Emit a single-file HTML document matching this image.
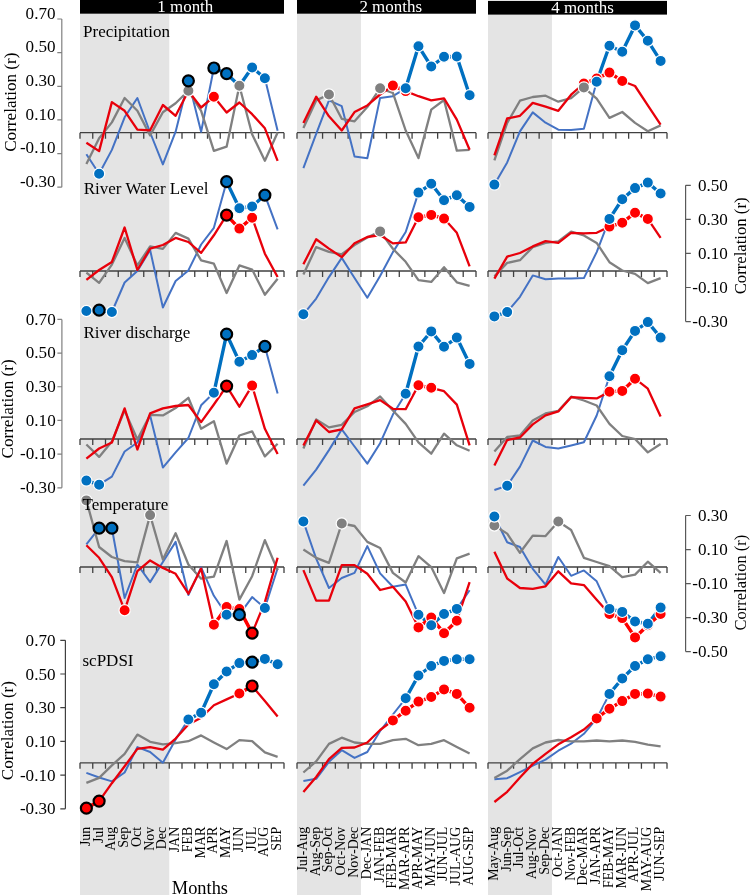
<!DOCTYPE html>
<html><head><meta charset="utf-8"><style>
html,body{margin:0;padding:0;background:#fff;}
svg{display:block;font-family:"Liberation Serif",serif;will-change:transform;}
</style></head><body>
<svg width="750" height="896" viewBox="0 0 750 896">
<rect width="750" height="896" fill="#fff"/>
<rect x="80" y="14" width="89.25" height="881" fill="#e4e4e4"/>
<rect x="297" y="14" width="63.93" height="881" fill="#e4e4e4"/>
<rect x="488" y="14" width="63.93" height="881" fill="#e4e4e4"/>
<rect x="80" y="0" width="204" height="13.7" fill="#000"/>
<text x="185.3" y="11.6" font-size="16.95" fill="#fff" text-anchor="middle">1 month</text>
<rect x="297" y="0" width="179" height="13.7" fill="#000"/>
<text x="390.7" y="11.6" font-size="16.95" fill="#fff" text-anchor="middle">2 months</text>
<rect x="488" y="0.9" width="179" height="13.7" fill="#000"/>
<text x="582.5" y="12.8" font-size="16.95" fill="#fff" text-anchor="middle">4 months</text>
<path d="M80 132.7H284M80 132.7V138.7M92.75 132.7V138.7M105.5 132.7V138.7M118.25 132.7V138.7M131 132.7V138.7M143.75 132.7V138.7M156.5 132.7V138.7M169.25 132.7V138.7M182 132.7V138.7M194.75 132.7V138.7M207.5 132.7V138.7M220.25 132.7V138.7M233 132.7V138.7M245.75 132.7V138.7M258.5 132.7V138.7M271.25 132.7V138.7M284 132.7V138.7" stroke="#404040" stroke-width="1.3" fill="none"/>
<path d="M297 132.7H476M297 132.7V138.7M309.79 132.7V138.7M322.57 132.7V138.7M335.36 132.7V138.7M348.14 132.7V138.7M360.93 132.7V138.7M373.71 132.7V138.7M386.5 132.7V138.7M399.29 132.7V138.7M412.07 132.7V138.7M424.86 132.7V138.7M437.64 132.7V138.7M450.43 132.7V138.7M463.21 132.7V138.7M476 132.7V138.7" stroke="#404040" stroke-width="1.3" fill="none"/>
<path d="M488 132.7H667M488 132.7V138.7M500.79 132.7V138.7M513.57 132.7V138.7M526.36 132.7V138.7M539.14 132.7V138.7M551.93 132.7V138.7M564.71 132.7V138.7M577.5 132.7V138.7M590.29 132.7V138.7M603.07 132.7V138.7M615.86 132.7V138.7M628.64 132.7V138.7M641.43 132.7V138.7M654.21 132.7V138.7M667 132.7V138.7" stroke="#404040" stroke-width="1.3" fill="none"/>
<path d="M80 271H284M80 271V277M92.75 271V277M105.5 271V277M118.25 271V277M131 271V277M143.75 271V277M156.5 271V277M169.25 271V277M182 271V277M194.75 271V277M207.5 271V277M220.25 271V277M233 271V277M245.75 271V277M258.5 271V277M271.25 271V277M284 271V277" stroke="#404040" stroke-width="1.3" fill="none"/>
<path d="M297 271H476M297 271V277M309.79 271V277M322.57 271V277M335.36 271V277M348.14 271V277M360.93 271V277M373.71 271V277M386.5 271V277M399.29 271V277M412.07 271V277M424.86 271V277M437.64 271V277M450.43 271V277M463.21 271V277M476 271V277" stroke="#404040" stroke-width="1.3" fill="none"/>
<path d="M488 271H667M488 271V277M500.79 271V277M513.57 271V277M526.36 271V277M539.14 271V277M551.93 271V277M564.71 271V277M577.5 271V277M590.29 271V277M603.07 271V277M615.86 271V277M628.64 271V277M641.43 271V277M654.21 271V277M667 271V277" stroke="#404040" stroke-width="1.3" fill="none"/>
<path d="M80 439H284M80 439V445M92.75 439V445M105.5 439V445M118.25 439V445M131 439V445M143.75 439V445M156.5 439V445M169.25 439V445M182 439V445M194.75 439V445M207.5 439V445M220.25 439V445M233 439V445M245.75 439V445M258.5 439V445M271.25 439V445M284 439V445" stroke="#404040" stroke-width="1.3" fill="none"/>
<path d="M297 439H476M297 439V445M309.79 439V445M322.57 439V445M335.36 439V445M348.14 439V445M360.93 439V445M373.71 439V445M386.5 439V445M399.29 439V445M412.07 439V445M424.86 439V445M437.64 439V445M450.43 439V445M463.21 439V445M476 439V445" stroke="#404040" stroke-width="1.3" fill="none"/>
<path d="M488 439H667M488 439V445M500.79 439V445M513.57 439V445M526.36 439V445M539.14 439V445M551.93 439V445M564.71 439V445M577.5 439V445M590.29 439V445M603.07 439V445M615.86 439V445M628.64 439V445M641.43 439V445M654.21 439V445M667 439V445" stroke="#404040" stroke-width="1.3" fill="none"/>
<path d="M80 567H284M80 567V573M92.75 567V573M105.5 567V573M118.25 567V573M131 567V573M143.75 567V573M156.5 567V573M169.25 567V573M182 567V573M194.75 567V573M207.5 567V573M220.25 567V573M233 567V573M245.75 567V573M258.5 567V573M271.25 567V573M284 567V573" stroke="#404040" stroke-width="1.3" fill="none"/>
<path d="M297 567H476M297 567V573M309.79 567V573M322.57 567V573M335.36 567V573M348.14 567V573M360.93 567V573M373.71 567V573M386.5 567V573M399.29 567V573M412.07 567V573M424.86 567V573M437.64 567V573M450.43 567V573M463.21 567V573M476 567V573" stroke="#404040" stroke-width="1.3" fill="none"/>
<path d="M488 567H667M488 567V573M500.79 567V573M513.57 567V573M526.36 567V573M539.14 567V573M551.93 567V573M564.71 567V573M577.5 567V573M590.29 567V573M603.07 567V573M615.86 567V573M628.64 567V573M641.43 567V573M654.21 567V573M667 567V573" stroke="#404040" stroke-width="1.3" fill="none"/>
<path d="M80 762.8H284M80 762.8V768.8M92.75 762.8V768.8M105.5 762.8V768.8M118.25 762.8V768.8M131 762.8V768.8M143.75 762.8V768.8M156.5 762.8V768.8M169.25 762.8V768.8M182 762.8V768.8M194.75 762.8V768.8M207.5 762.8V768.8M220.25 762.8V768.8M233 762.8V768.8M245.75 762.8V768.8M258.5 762.8V768.8M271.25 762.8V768.8M284 762.8V768.8" stroke="#404040" stroke-width="1.3" fill="none"/>
<path d="M297 762.8H476M297 762.8V768.8M309.79 762.8V768.8M322.57 762.8V768.8M335.36 762.8V768.8M348.14 762.8V768.8M360.93 762.8V768.8M373.71 762.8V768.8M386.5 762.8V768.8M399.29 762.8V768.8M412.07 762.8V768.8M424.86 762.8V768.8M437.64 762.8V768.8M450.43 762.8V768.8M463.21 762.8V768.8M476 762.8V768.8" stroke="#404040" stroke-width="1.3" fill="none"/>
<path d="M488 762.8H667M488 762.8V768.8M500.79 762.8V768.8M513.57 762.8V768.8M526.36 762.8V768.8M539.14 762.8V768.8M551.93 762.8V768.8M564.71 762.8V768.8M577.5 762.8V768.8M590.29 762.8V768.8M603.07 762.8V768.8M615.86 762.8V768.8M628.64 762.8V768.8M641.43 762.8V768.8M654.21 762.8V768.8M667 762.8V768.8" stroke="#404040" stroke-width="1.3" fill="none"/>
<path d="M61.8 19V187.2M57.3 19H61.8M57.3 52.64H61.8M57.3 86.28H61.8M57.3 119.92H61.8M57.3 153.56H61.8M57.3 187.2H61.8" stroke="#808080" stroke-width="1.2" fill="none"/>
<text x="55.5" y="18.6" font-size="17.1" text-anchor="end">0.70</text>
<text x="55.5" y="52.24" font-size="17.1" text-anchor="end">0.50</text>
<text x="55.5" y="85.88" font-size="17.1" text-anchor="end">0.30</text>
<text x="55.5" y="119.52" font-size="17.1" text-anchor="end">0.10</text>
<text x="55.5" y="153.16" font-size="17.1" text-anchor="end">-0.10</text>
<text x="55.5" y="186.8" font-size="17.1" text-anchor="end">-0.30</text>
<path d="M61.9 319.4V487.8M57.4 319.4H61.9M57.4 353.08H61.9M57.4 386.76H61.9M57.4 420.44H61.9M57.4 454.12H61.9M57.4 487.8H61.9" stroke="#808080" stroke-width="1.2" fill="none"/>
<text x="55.7" y="324.7" font-size="17.1" text-anchor="end">0.70</text>
<text x="55.7" y="358.38" font-size="17.1" text-anchor="end">0.50</text>
<text x="55.7" y="392.06" font-size="17.1" text-anchor="end">0.30</text>
<text x="55.7" y="425.74" font-size="17.1" text-anchor="end">0.10</text>
<text x="55.7" y="459.42" font-size="17.1" text-anchor="end">-0.10</text>
<text x="55.7" y="493.1" font-size="17.1" text-anchor="end">-0.30</text>
<path d="M65.4 640.3V808.8M60.3 640.3H65.4M60.3 674H65.4M60.3 707.7H65.4M60.3 741.4H65.4M60.3 775.1H65.4M60.3 808.8H65.4" stroke="#404040" stroke-width="1.2" fill="none"/>
<text x="55.5" y="645.8" font-size="17.1" text-anchor="end">0.70</text>
<text x="55.5" y="679.5" font-size="17.1" text-anchor="end">0.50</text>
<text x="55.5" y="713.2" font-size="17.1" text-anchor="end">0.30</text>
<text x="55.5" y="746.9" font-size="17.1" text-anchor="end">0.10</text>
<text x="55.5" y="780.6" font-size="17.1" text-anchor="end">-0.10</text>
<text x="55.5" y="814.3" font-size="17.1" text-anchor="end">-0.30</text>
<path d="M685.6 185.3V321.58M685.6 185.3H690.8M685.6 219.37H690.8M685.6 253.44H690.8M685.6 287.51H690.8M685.6 321.58H690.8" stroke="#595959" stroke-width="1.2" fill="none"/>
<text x="727.9" y="190.8" font-size="17.1" text-anchor="end">0.50</text>
<text x="727.9" y="224.87" font-size="17.1" text-anchor="end">0.30</text>
<text x="727.9" y="258.94" font-size="17.1" text-anchor="end">0.10</text>
<text x="727.9" y="293.01" font-size="17.1" text-anchor="end">-0.10</text>
<text x="727.9" y="327.08" font-size="17.1" text-anchor="end">-0.30</text>
<path d="M685.6 515.5V651.62M685.6 515.5H690.8M685.6 549.53H690.8M685.6 583.56H690.8M685.6 617.59H690.8M685.6 651.62H690.8" stroke="#595959" stroke-width="1.2" fill="none"/>
<text x="727.9" y="521" font-size="17.1" text-anchor="end">0.30</text>
<text x="727.9" y="555.03" font-size="17.1" text-anchor="end">0.10</text>
<text x="727.9" y="589.06" font-size="17.1" text-anchor="end">-0.10</text>
<text x="727.9" y="623.09" font-size="17.1" text-anchor="end">-0.30</text>
<text x="727.9" y="657.12" font-size="17.1" text-anchor="end">-0.50</text>
<text x="15.7" y="102.2" font-size="17.1" text-anchor="middle" transform="rotate(-90 15.7 102.2)">Correlation (r)</text>
<text x="13.3" y="408.9" font-size="17.1" text-anchor="middle" transform="rotate(-90 13.3 408.9)">Correlation (r)</text>
<text x="13.2" y="730.6" font-size="17.1" text-anchor="middle" transform="rotate(-90 13.2 730.6)">Correlation (r)</text>
<text x="746" y="245.9" font-size="16.7" text-anchor="middle" transform="rotate(-90 746 245.9)">Correlation (r)</text>
<text x="746" y="582.6" font-size="16.5" text-anchor="middle" transform="rotate(-90 746 582.6)">Correlation (r)</text>
<text x="89.78" y="826.8" font-size="13.9" text-anchor="end" transform="rotate(-90 89.78 826.8)">Jun</text>
<text x="102.53" y="826.8" font-size="13.9" text-anchor="end" transform="rotate(-90 102.53 826.8)">Jul</text>
<text x="115.28" y="826.8" font-size="13.9" text-anchor="end" transform="rotate(-90 115.28 826.8)">Aug</text>
<text x="128.03" y="826.8" font-size="13.9" text-anchor="end" transform="rotate(-90 128.03 826.8)">Sep</text>
<text x="140.78" y="826.8" font-size="13.9" text-anchor="end" transform="rotate(-90 140.78 826.8)">Oct</text>
<text x="153.53" y="826.8" font-size="13.9" text-anchor="end" transform="rotate(-90 153.53 826.8)">Nov</text>
<text x="166.28" y="826.8" font-size="13.9" text-anchor="end" transform="rotate(-90 166.28 826.8)">Dec</text>
<text x="179.03" y="826.8" font-size="13.9" text-anchor="end" transform="rotate(-90 179.03 826.8)">JAN</text>
<text x="191.78" y="826.8" font-size="13.9" text-anchor="end" transform="rotate(-90 191.78 826.8)">FEB</text>
<text x="204.53" y="826.8" font-size="13.9" text-anchor="end" transform="rotate(-90 204.53 826.8)">MAR</text>
<text x="217.28" y="826.8" font-size="13.9" text-anchor="end" transform="rotate(-90 217.28 826.8)">APR</text>
<text x="230.03" y="826.8" font-size="13.9" text-anchor="end" transform="rotate(-90 230.03 826.8)">MAY</text>
<text x="242.78" y="826.8" font-size="13.9" text-anchor="end" transform="rotate(-90 242.78 826.8)">JUN</text>
<text x="255.53" y="826.8" font-size="13.9" text-anchor="end" transform="rotate(-90 255.53 826.8)">JUL</text>
<text x="268.27" y="826.8" font-size="13.9" text-anchor="end" transform="rotate(-90 268.27 826.8)">AUG</text>
<text x="281.02" y="826.8" font-size="13.9" text-anchor="end" transform="rotate(-90 281.02 826.8)">SEP</text>
<text x="306.79" y="826.8" font-size="13.9" text-anchor="end" transform="rotate(-90 306.79 826.8)">Jul-Aug</text>
<text x="319.58" y="826.8" font-size="13.9" text-anchor="end" transform="rotate(-90 319.58 826.8)">Aug-Sep</text>
<text x="332.36" y="826.8" font-size="13.9" text-anchor="end" transform="rotate(-90 332.36 826.8)">Sep-Oct</text>
<text x="345.15" y="826.8" font-size="13.9" text-anchor="end" transform="rotate(-90 345.15 826.8)">Oct-Nov</text>
<text x="357.94" y="826.8" font-size="13.9" text-anchor="end" transform="rotate(-90 357.94 826.8)">Nov-Dec</text>
<text x="370.72" y="826.8" font-size="13.9" text-anchor="end" transform="rotate(-90 370.72 826.8)">Dec-JAN</text>
<text x="383.51" y="826.8" font-size="13.9" text-anchor="end" transform="rotate(-90 383.51 826.8)">JAN-FEB</text>
<text x="396.29" y="826.8" font-size="13.9" text-anchor="end" transform="rotate(-90 396.29 826.8)">FEB-MAR</text>
<text x="409.08" y="826.8" font-size="13.9" text-anchor="end" transform="rotate(-90 409.08 826.8)">MAR-APR</text>
<text x="421.86" y="826.8" font-size="13.9" text-anchor="end" transform="rotate(-90 421.86 826.8)">APR-MAY</text>
<text x="434.65" y="826.8" font-size="13.9" text-anchor="end" transform="rotate(-90 434.65 826.8)">MAY-JUN</text>
<text x="447.44" y="826.8" font-size="13.9" text-anchor="end" transform="rotate(-90 447.44 826.8)">JUN-JUL</text>
<text x="460.22" y="826.8" font-size="13.9" text-anchor="end" transform="rotate(-90 460.22 826.8)">JUL-AUG</text>
<text x="473.01" y="826.8" font-size="13.9" text-anchor="end" transform="rotate(-90 473.01 826.8)">AUG-SEP</text>
<text x="497.79" y="826.8" font-size="13.9" text-anchor="end" transform="rotate(-90 497.79 826.8)">May-Aug</text>
<text x="510.58" y="826.8" font-size="13.9" text-anchor="end" transform="rotate(-90 510.58 826.8)">Jun-Sep</text>
<text x="523.36" y="826.8" font-size="13.9" text-anchor="end" transform="rotate(-90 523.36 826.8)">Jul-Oct</text>
<text x="536.15" y="826.8" font-size="13.9" text-anchor="end" transform="rotate(-90 536.15 826.8)">Aug-Nov</text>
<text x="548.94" y="826.8" font-size="13.9" text-anchor="end" transform="rotate(-90 548.94 826.8)">Sep-Dec</text>
<text x="561.72" y="826.8" font-size="13.9" text-anchor="end" transform="rotate(-90 561.72 826.8)">Oct-JAN</text>
<text x="574.51" y="826.8" font-size="13.9" text-anchor="end" transform="rotate(-90 574.51 826.8)">Nov-FEB</text>
<text x="587.29" y="826.8" font-size="13.9" text-anchor="end" transform="rotate(-90 587.29 826.8)">Dec-MAR</text>
<text x="600.08" y="826.8" font-size="13.9" text-anchor="end" transform="rotate(-90 600.08 826.8)">JAN-APR</text>
<text x="612.86" y="826.8" font-size="13.9" text-anchor="end" transform="rotate(-90 612.86 826.8)">FEB-MAY</text>
<text x="625.65" y="826.8" font-size="13.9" text-anchor="end" transform="rotate(-90 625.65 826.8)">MAR-JUN</text>
<text x="638.44" y="826.8" font-size="13.9" text-anchor="end" transform="rotate(-90 638.44 826.8)">APR-JUL</text>
<text x="651.22" y="826.8" font-size="13.9" text-anchor="end" transform="rotate(-90 651.22 826.8)">MAY-AUG</text>
<text x="664.01" y="826.8" font-size="13.9" text-anchor="end" transform="rotate(-90 664.01 826.8)">JUN-SEP</text>
<text x="199.9" y="894" font-size="18.4" text-anchor="middle">Months</text>
<polyline points="86.38,154.3 99.12,173.8 111.88,149.9 124.62,117.3 137.38,98 150.12,132.5 162.88,164.4 175.62,131.7 188.38,80.8 201.12,131.7 213.88,68 226.62,73.7 239.38,85.8 252.12,67.5 264.88,78.3 277.62,130.8" stroke="#4472c4" stroke-width="2.0" fill="none" stroke-linejoin="round"/>
<polyline points="86.38,164.1 99.12,138.3 111.88,122.4 124.62,98 137.38,110.8 150.12,135.4 162.88,112.2 175.62,103.3 188.38,90.8 201.12,110.8 213.88,150.8 226.62,146.7 239.38,85.8 252.12,134.2 264.88,160.8 277.62,132.5" stroke="#808080" stroke-width="2.3" fill="none" stroke-linejoin="round"/>
<polyline points="86.38,142.7 99.12,151.1 111.88,102.1 124.62,110.8 137.38,129.6 150.12,130.3 162.88,105 175.62,115.8 188.38,91 201.12,107.5 213.88,96.7 226.62,112.5 239.38,102.5 252.12,114.2 264.88,128.3 277.62,160.8" stroke="#e8000b" stroke-width="2.3" fill="none" stroke-linejoin="round"/>
<polyline points="303.39,168.2 316.18,133.9 328.96,100.4 341.75,106.2 354.54,156.5 367.32,158.2 380.11,97.9 392.89,96.2 405.68,88.3 418.46,46.2 431.25,66.5 444.04,56.8 456.82,56.5 469.61,95.3" stroke="#4472c4" stroke-width="2.0" fill="none" stroke-linejoin="round"/>
<polyline points="303.39,128 316.18,100.4 328.96,94.5 341.75,118.8 354.54,121.3 367.32,107.1 380.11,88.3 392.89,92.8 405.68,130.5 418.46,158.1 431.25,109.6 444.04,100 456.82,150.6 469.61,149.8" stroke="#808080" stroke-width="2.3" fill="none" stroke-linejoin="round"/>
<polyline points="303.39,123 316.18,96.7 328.96,116.3 341.75,130.5 354.54,112.1 367.32,105.4 380.11,94.5 392.89,85.6 405.68,91.1 418.46,96.2 431.25,100.4 444.04,98.3 456.82,119.6 469.61,149.8" stroke="#e8000b" stroke-width="2.3" fill="none" stroke-linejoin="round"/>
<polyline points="494.39,184.6 507.18,162.4 519.96,131.4 532.75,112.4 545.54,122.7 558.32,129.7 571.11,130 583.89,128.7 596.68,81.8 609.46,45.8 622.25,51.7 635.04,25.4 647.82,40.8 660.61,60.9" stroke="#4472c4" stroke-width="2.0" fill="none" stroke-linejoin="round"/>
<polyline points="494.39,160.4 507.18,123 519.96,100.7 532.75,97 545.54,95.7 558.32,101.7 571.11,98.2 583.89,87.4 596.68,98.6 609.46,117.9 622.25,112 635.04,122.9 647.82,131.3 660.61,125.4" stroke="#808080" stroke-width="2.3" fill="none" stroke-linejoin="round"/>
<polyline points="494.39,155.3 507.18,118.5 519.96,115.8 532.75,102.9 545.54,106.7 558.32,110.8 571.11,94.7 583.89,83.5 596.68,78.5 609.46,72.6 622.25,81 635.04,86 647.82,105.3 660.61,124.6" stroke="#e8000b" stroke-width="2.3" fill="none" stroke-linejoin="round"/>
<polyline points="86.38,311 99.12,310.2 111.88,312 124.62,282.5 137.38,270.9 150.12,250 162.88,307.5 175.62,281 188.38,270.4 201.12,244.5 213.88,227.8 226.62,181.7 239.38,208.2 252.12,206.5 264.88,195.1 277.62,229.4" stroke="#4472c4" stroke-width="2.0" fill="none" stroke-linejoin="round"/>
<polyline points="86.38,272.7 99.12,282.9 111.88,264.6 124.62,237.9 137.38,265.5 150.12,246.4 162.88,248.9 175.62,232.9 188.38,238.6 201.12,260.4 213.88,263.7 226.62,293 239.38,265.4 252.12,269.6 264.88,294.7 277.62,278.8" stroke="#808080" stroke-width="2.3" fill="none" stroke-linejoin="round"/>
<polyline points="86.38,279.8 99.12,270 111.88,262 124.62,227.5 137.38,270 150.12,248.6 162.88,245 175.62,237.9 188.38,242 201.12,252.9 213.88,235.3 226.62,215.2 239.38,228.6 252.12,217.7 264.88,253.7 277.62,277" stroke="#e8000b" stroke-width="2.3" fill="none" stroke-linejoin="round"/>
<polyline points="303.39,314.3 316.18,298.6 328.96,277.1 341.75,257.9 354.54,278 367.32,297.7 380.11,276 392.89,252.1 405.68,232 418.46,192.6 431.25,183.8 444.04,200.2 456.82,195.2 469.61,206.9" stroke="#4472c4" stroke-width="2.0" fill="none" stroke-linejoin="round"/>
<polyline points="303.39,274.5 316.18,247.1 328.96,251.8 341.75,254.3 354.54,245 367.32,237.5 380.11,231.4 392.89,248.8 405.68,261.8 418.46,280.2 431.25,281.9 444.04,267.2 456.82,282.3 469.61,285.9" stroke="#808080" stroke-width="2.3" fill="none" stroke-linejoin="round"/>
<polyline points="303.39,264.3 316.18,239.3 328.96,248.6 341.75,257.1 354.54,243.2 367.32,237 380.11,235 392.89,243.4 405.68,242.4 418.46,217.3 431.25,214.9 444.04,218.6 456.82,232.8 469.61,266.3" stroke="#e8000b" stroke-width="2.3" fill="none" stroke-linejoin="round"/>
<polyline points="494.39,316.4 507.18,312 519.96,296.8 532.75,275.4 545.54,279.3 558.32,278.6 571.11,278.5 583.89,278.1 596.68,252.1 609.46,218.9 622.25,199.3 635.04,188.1 647.82,182.6 660.61,193.5" stroke="#4472c4" stroke-width="2.0" fill="none" stroke-linejoin="round"/>
<polyline points="494.39,276.3 507.18,262.9 519.96,260.2 532.75,247.1 545.54,242.9 558.32,241.4 571.11,231.6 583.89,235.4 596.68,242.9 609.46,262.2 622.25,270.5 635.04,273.9 647.82,283.1 660.61,278.1" stroke="#808080" stroke-width="2.3" fill="none" stroke-linejoin="round"/>
<polyline points="494.39,278.6 507.18,256.6 519.96,253 532.75,246.4 545.54,241.1 558.32,242.9 571.11,232.9 583.89,233.3 596.68,232.8 609.46,226.6 622.25,222.8 635.04,212.7 647.82,218.9 660.61,237.9" stroke="#e8000b" stroke-width="2.3" fill="none" stroke-linejoin="round"/>
<polyline points="86.38,480.6 99.12,484.7 111.88,476.6 124.62,451.5 137.38,442.5 150.12,415.4 162.88,467.6 175.62,452.3 188.38,438 201.12,405.3 213.88,392.8 226.62,334.2 239.38,361.8 252.12,355.1 264.88,346.4 277.62,393.6" stroke="#4472c4" stroke-width="2.0" fill="none" stroke-linejoin="round"/>
<polyline points="86.38,444.5 99.12,456.9 111.88,441.5 124.62,410.4 137.38,439.5 150.12,414.8 162.88,415.4 175.62,408 188.38,397.8 201.12,428.8 213.88,421.2 226.62,463.6 239.38,435.5 252.12,431.3 264.88,456.4 277.62,443.8" stroke="#808080" stroke-width="2.3" fill="none" stroke-linejoin="round"/>
<polyline points="86.38,458.6 99.12,448.5 111.88,442.5 124.62,408.4 137.38,449.5 150.12,413.4 162.88,408.4 175.62,406 188.38,405 201.12,422.1 213.88,404.5 226.62,386.1 239.38,406.7 252.12,385.6 264.88,428.8 277.62,453.9" stroke="#e8000b" stroke-width="2.3" fill="none" stroke-linejoin="round"/>
<polyline points="303.39,485.7 316.18,469.6 328.96,450.1 341.75,429.4 354.54,446.5 367.32,463.6 380.11,443.2 392.89,414.6 405.68,393.7 418.46,346.5 431.25,331.4 444.04,346.8 456.82,337.6 469.61,363.9" stroke="#4472c4" stroke-width="2.0" fill="none" stroke-linejoin="round"/>
<polyline points="303.39,448.5 316.18,419.4 328.96,427.4 341.75,424.8 354.54,412 367.32,406.3 380.11,396.5 392.89,410.5 405.68,423.9 418.46,442.3 431.25,453.7 444.04,433.6 456.82,445.3 469.61,450.7" stroke="#808080" stroke-width="2.3" fill="none" stroke-linejoin="round"/>
<polyline points="303.39,445.5 316.18,420.4 328.96,432 341.75,429.4 354.54,408.4 367.32,404.3 380.11,400.1 392.89,408.8 405.68,409.1 418.46,385.3 431.25,387.8 444.04,391.2 456.82,404.6 469.61,445.3" stroke="#e8000b" stroke-width="2.3" fill="none" stroke-linejoin="round"/>
<polyline points="494.39,490 507.18,485.7 519.96,466.6 532.75,440.5 545.54,446.9 558.32,448.5 571.11,445.5 583.89,442.3 596.68,415.5 609.46,376.2 622.25,350.2 635.04,330.9 647.82,322.1 660.61,337.6" stroke="#4472c4" stroke-width="2.0" fill="none" stroke-linejoin="round"/>
<polyline points="494.39,451.5 507.18,436.9 519.96,435.5 532.75,420.4 545.54,413.4 558.32,410.8 571.11,396.7 583.89,400.5 596.68,405.5 609.46,423.9 622.25,436 635.04,439 647.82,452.4 660.61,444" stroke="#808080" stroke-width="2.3" fill="none" stroke-linejoin="round"/>
<polyline points="494.39,465.6 507.18,440.1 519.96,437.5 532.75,424.4 545.54,415.4 558.32,411.4 571.11,397.2 583.89,397.9 596.68,398.4 609.46,391.7 622.25,390.9 635.04,378.7 647.82,388.7 660.61,416.4" stroke="#e8000b" stroke-width="2.3" fill="none" stroke-linejoin="round"/>
<polyline points="86.38,544.4 99.12,528.2 111.88,528.2 124.62,598 137.38,564.5 150.12,582.1 162.88,562 175.62,541.9 188.38,595.1 201.12,567.3 213.88,595.8 226.62,614.7 239.38,614.7 252.12,597.1 264.88,608 277.62,568.3" stroke="#4472c4" stroke-width="2.0" fill="none" stroke-linejoin="round"/>
<polyline points="86.38,500.4 99.12,547 111.88,557 124.62,561.2 137.38,562.4 150.12,515.1 162.88,559.5 175.62,533.2 188.38,564.5 201.12,578.7 213.88,576.7 226.62,541 239.38,599.6 252.12,576.2 264.88,540.2 277.62,570.3" stroke="#808080" stroke-width="2.3" fill="none" stroke-linejoin="round"/>
<polyline points="86.38,545.3 99.12,557.8 111.88,577.1 124.62,610.3 137.38,571.2 150.12,560.4 162.88,567.9 175.62,573.8 188.38,593.7 201.12,568.6 213.88,624.7 226.62,607.1 239.38,609.1 252.12,633.1 264.88,602.1 277.62,557.8" stroke="#e8000b" stroke-width="2.3" fill="none" stroke-linejoin="round"/>
<polyline points="303.39,521.5 316.18,558.7 328.96,588 341.75,578 354.54,572.9 367.32,546.1 380.11,573.4 392.89,586.8 405.68,584.6 418.46,614.8 431.25,625.3 444.04,614 456.82,608.9 469.61,590.2" stroke="#4472c4" stroke-width="2.0" fill="none" stroke-linejoin="round"/>
<polyline points="303.39,549.5 316.18,557.9 328.96,562.9 341.75,523.5 354.54,526 367.32,541.9 380.11,548 392.89,572.9 405.68,582.5 418.46,556.2 431.25,567.1 444.04,593 456.82,558.3 469.61,553.7" stroke="#808080" stroke-width="2.3" fill="none" stroke-linejoin="round"/>
<polyline points="303.39,570.1 316.18,600.6 328.96,600.6 341.75,565.1 354.54,565.1 367.32,573.8 380.11,590 392.89,586.8 405.68,601.4 418.46,627.4 431.25,617.6 444.04,633.2 456.82,620.7 469.61,582.1" stroke="#e8000b" stroke-width="2.3" fill="none" stroke-linejoin="round"/>
<polyline points="494.39,516.5 507.18,542.3 519.96,547 532.75,568.8 545.54,584.7 558.32,557 571.11,575.8 583.89,570.4 596.68,581.3 609.46,608.9 622.25,611.9 635.04,621.5 647.82,623.7 660.61,607.6" stroke="#4472c4" stroke-width="2.0" fill="none" stroke-linejoin="round"/>
<polyline points="494.39,525.5 507.18,533.6 519.96,552.8 532.75,535.6 545.54,536.1 558.32,521.5 571.11,530 583.89,557.8 596.68,562 609.46,566.2 622.25,577.1 635.04,574.6 647.82,561.7 660.61,572.9" stroke="#808080" stroke-width="2.3" fill="none" stroke-linejoin="round"/>
<polyline points="494.39,551.7 507.18,578.5 519.96,588 532.75,588.9 545.54,586.3 558.32,571.3 571.11,583.3 583.89,585.1 596.68,599.7 609.46,614 622.25,618.1 635.04,637.4 647.82,625.3 660.61,614" stroke="#e8000b" stroke-width="2.3" fill="none" stroke-linejoin="round"/>
<polyline points="86.38,772.9 99.12,777.5 111.88,781.4 124.62,772.5 137.38,747.1 150.12,752 162.88,762.7 175.62,739.5 188.38,719.5 201.12,712.8 213.88,684.3 226.62,671.5 239.38,663.1 252.12,662.1 264.88,658.9 277.62,664.3" stroke="#4472c4" stroke-width="2.0" fill="none" stroke-linejoin="round"/>
<polyline points="86.38,782.9 99.12,777.9 111.88,765.4 124.62,753.8 137.38,734.6 150.12,741.8 162.88,744.3 175.62,743.2 188.38,741.2 201.12,735.4 213.88,742.4 226.62,749.1 239.38,740.1 252.12,741.2 264.88,752.4 277.62,756.8" stroke="#808080" stroke-width="2.3" fill="none" stroke-linejoin="round"/>
<polyline points="86.38,808.2 99.12,801.1 111.88,783.2 124.62,766.3 137.38,748.9 150.12,747.1 162.88,749.6 175.62,738.6 188.38,724.5 201.12,717.8 213.88,705.3 226.62,699.4 239.38,693.5 252.12,686 264.88,701.1 277.62,716.6" stroke="#e8000b" stroke-width="2.3" fill="none" stroke-linejoin="round"/>
<polyline points="303.39,781.1 316.18,778.8 328.96,761.8 341.75,750.2 354.54,757.9 367.32,752 380.11,731 392.89,714.5 405.68,698.3 418.46,675.5 431.25,666 444.04,660.9 456.82,659.3 469.61,659.3" stroke="#4472c4" stroke-width="2.0" fill="none" stroke-linejoin="round"/>
<polyline points="303.39,772.5 316.18,761.4 328.96,743.9 341.75,737.7 354.54,742.5 367.32,743.9 380.11,743.9 392.89,740.2 405.68,738.8 418.46,745.2 431.25,743.9 444.04,740.2 456.82,746.9 469.61,753.6" stroke="#808080" stroke-width="2.3" fill="none" stroke-linejoin="round"/>
<polyline points="303.39,792.1 316.18,777 328.96,759.1 341.75,747.9 354.54,747.5 367.32,742.5 380.11,730 392.89,720.4 405.68,710.7 418.46,701.6 431.25,697 444.04,689.4 456.82,693.9 469.61,707.8" stroke="#e8000b" stroke-width="2.3" fill="none" stroke-linejoin="round"/>
<polyline points="494.39,779.3 507.18,778.2 519.96,772.1 532.75,765.7 545.54,759.6 558.32,750.7 571.11,743.7 583.89,733.8 596.68,718.7 609.46,693.9 622.25,678.5 635.04,666 647.82,659.3 660.61,656.2" stroke="#4472c4" stroke-width="2.0" fill="none" stroke-linejoin="round"/>
<polyline points="494.39,777.9 507.18,770.7 519.96,759.1 532.75,748.4 545.54,742.5 558.32,740 571.11,741.3 583.89,741.3 596.68,740.5 609.46,741.3 622.25,740.5 635.04,741.8 647.82,744.7 660.61,746.4" stroke="#808080" stroke-width="2.3" fill="none" stroke-linejoin="round"/>
<polyline points="494.39,802 507.18,791.8 519.96,777.5 532.75,763.9 545.54,753.8 558.32,744.3 571.11,737.2 583.89,729.6 596.68,718.4 609.46,708.7 622.25,701.1 635.04,693.9 647.82,693.6 660.61,696.6" stroke="#e8000b" stroke-width="2.3" fill="none" stroke-linejoin="round"/>
<path d="M213.88 68L226.62 73.7M226.62 73.7L239.38 85.8M239.38 85.8L252.12 67.5M252.12 67.5L264.88 78.3" stroke="#0070c0" stroke-width="3.4" fill="none"/>
<path d="M405.68 88.3L418.46 46.2M418.46 46.2L431.25 66.5M431.25 66.5L444.04 56.8M444.04 56.8L456.82 56.5M456.82 56.5L469.61 95.3" stroke="#0070c0" stroke-width="3.4" fill="none"/>
<path d="M392.89 85.6L405.68 91.1" stroke="#ff0000" stroke-width="3.4" fill="none"/>
<path d="M596.68 81.8L609.46 45.8M609.46 45.8L622.25 51.7M622.25 51.7L635.04 25.4M635.04 25.4L647.82 40.8M647.82 40.8L660.61 60.9" stroke="#0070c0" stroke-width="3.4" fill="none"/>
<path d="M583.89 83.5L596.68 78.5M596.68 78.5L609.46 72.6M609.46 72.6L622.25 81" stroke="#ff0000" stroke-width="3.4" fill="none"/>
<path d="M86.38 311L99.12 310.2M99.12 310.2L111.88 312M226.62 181.7L239.38 208.2M239.38 208.2L252.12 206.5M252.12 206.5L264.88 195.1" stroke="#0070c0" stroke-width="3.4" fill="none"/>
<path d="M226.62 215.2L239.38 228.6M239.38 228.6L252.12 217.7" stroke="#ff0000" stroke-width="3.4" fill="none"/>
<path d="M418.46 192.6L431.25 183.8M431.25 183.8L444.04 200.2M444.04 200.2L456.82 195.2M456.82 195.2L469.61 206.9" stroke="#0070c0" stroke-width="3.4" fill="none"/>
<path d="M418.46 217.3L431.25 214.9M431.25 214.9L444.04 218.6" stroke="#ff0000" stroke-width="3.4" fill="none"/>
<path d="M494.39 316.4L507.18 312M609.46 218.9L622.25 199.3M622.25 199.3L635.04 188.1M635.04 188.1L647.82 182.6M647.82 182.6L660.61 193.5" stroke="#0070c0" stroke-width="3.4" fill="none"/>
<path d="M609.46 226.6L622.25 222.8M622.25 222.8L635.04 212.7M635.04 212.7L647.82 218.9" stroke="#ff0000" stroke-width="3.4" fill="none"/>
<path d="M86.38 480.6L99.12 484.7M213.88 392.8L226.62 334.2M226.62 334.2L239.38 361.8M239.38 361.8L252.12 355.1M252.12 355.1L264.88 346.4" stroke="#0070c0" stroke-width="3.4" fill="none"/>
<path d="M405.68 393.7L418.46 346.5M418.46 346.5L431.25 331.4M431.25 331.4L444.04 346.8M444.04 346.8L456.82 337.6M456.82 337.6L469.61 363.9" stroke="#0070c0" stroke-width="3.4" fill="none"/>
<path d="M418.46 385.3L431.25 387.8" stroke="#ff0000" stroke-width="3.4" fill="none"/>
<path d="M609.46 376.2L622.25 350.2M622.25 350.2L635.04 330.9M635.04 330.9L647.82 322.1M647.82 322.1L660.61 337.6" stroke="#0070c0" stroke-width="3.4" fill="none"/>
<path d="M609.46 391.7L622.25 390.9M622.25 390.9L635.04 378.7" stroke="#ff0000" stroke-width="3.4" fill="none"/>
<path d="M99.12 528.2L111.88 528.2M226.62 614.7L239.38 614.7" stroke="#0070c0" stroke-width="3.4" fill="none"/>
<path d="M213.88 624.7L226.62 607.1M226.62 607.1L239.38 609.1M239.38 609.1L252.12 633.1" stroke="#ff0000" stroke-width="3.4" fill="none"/>
<path d="M418.46 614.8L431.25 625.3M431.25 625.3L444.04 614M444.04 614L456.82 608.9" stroke="#0070c0" stroke-width="3.4" fill="none"/>
<path d="M418.46 627.4L431.25 617.6M431.25 617.6L444.04 633.2M444.04 633.2L456.82 620.7" stroke="#ff0000" stroke-width="3.4" fill="none"/>
<path d="M609.46 608.9L622.25 611.9M622.25 611.9L635.04 621.5M635.04 621.5L647.82 623.7M647.82 623.7L660.61 607.6" stroke="#0070c0" stroke-width="3.4" fill="none"/>
<path d="M609.46 614L622.25 618.1M622.25 618.1L635.04 637.4M635.04 637.4L647.82 625.3M647.82 625.3L660.61 614" stroke="#ff0000" stroke-width="3.4" fill="none"/>
<path d="M188.38 719.5L201.12 712.8M201.12 712.8L213.88 684.3M213.88 684.3L226.62 671.5M226.62 671.5L239.38 663.1M239.38 663.1L252.12 662.1M252.12 662.1L264.88 658.9M264.88 658.9L277.62 664.3" stroke="#0070c0" stroke-width="3.4" fill="none"/>
<path d="M86.38 808.2L99.12 801.1M239.38 693.5L252.12 686" stroke="#ff0000" stroke-width="3.4" fill="none"/>
<path d="M405.68 698.3L418.46 675.5M418.46 675.5L431.25 666M431.25 666L444.04 660.9M444.04 660.9L456.82 659.3M456.82 659.3L469.61 659.3" stroke="#0070c0" stroke-width="3.4" fill="none"/>
<path d="M392.89 720.4L405.68 710.7M405.68 710.7L418.46 701.6M418.46 701.6L431.25 697M431.25 697L444.04 689.4M444.04 689.4L456.82 693.9M456.82 693.9L469.61 707.8" stroke="#ff0000" stroke-width="3.4" fill="none"/>
<path d="M609.46 693.9L622.25 678.5M622.25 678.5L635.04 666M635.04 666L647.82 659.3M647.82 659.3L660.61 656.2" stroke="#0070c0" stroke-width="3.4" fill="none"/>
<path d="M596.68 718.4L609.46 708.7M609.46 708.7L622.25 701.1M622.25 701.1L635.04 693.9M635.04 693.9L647.82 693.6M647.82 693.6L660.61 696.6" stroke="#ff0000" stroke-width="3.4" fill="none"/>
<circle cx="213.88" cy="96.7" r="5.6" fill="#ff0000" stroke="#fff" stroke-width="1.2"/>
<circle cx="392.89" cy="85.6" r="5.6" fill="#ff0000" stroke="#fff" stroke-width="1.2"/>
<circle cx="405.68" cy="91.1" r="5.6" fill="#ff0000" stroke="#fff" stroke-width="1.2"/>
<circle cx="583.89" cy="83.5" r="5.6" fill="#ff0000" stroke="#fff" stroke-width="1.2"/>
<circle cx="596.68" cy="78.5" r="5.6" fill="#ff0000" stroke="#fff" stroke-width="1.2"/>
<circle cx="609.46" cy="72.6" r="5.6" fill="#ff0000" stroke="#fff" stroke-width="1.2"/>
<circle cx="622.25" cy="81" r="5.6" fill="#ff0000" stroke="#fff" stroke-width="1.2"/>
<circle cx="226.62" cy="215.2" r="5.5" fill="#ff0000" stroke="#000" stroke-width="2.2"/>
<circle cx="239.38" cy="228.6" r="5.6" fill="#ff0000" stroke="#fff" stroke-width="1.2"/>
<circle cx="252.12" cy="217.7" r="5.6" fill="#ff0000" stroke="#fff" stroke-width="1.2"/>
<circle cx="418.46" cy="217.3" r="5.6" fill="#ff0000" stroke="#fff" stroke-width="1.2"/>
<circle cx="431.25" cy="214.9" r="5.6" fill="#ff0000" stroke="#fff" stroke-width="1.2"/>
<circle cx="444.04" cy="218.6" r="5.6" fill="#ff0000" stroke="#fff" stroke-width="1.2"/>
<circle cx="609.46" cy="226.6" r="5.6" fill="#ff0000" stroke="#fff" stroke-width="1.2"/>
<circle cx="622.25" cy="222.8" r="5.6" fill="#ff0000" stroke="#fff" stroke-width="1.2"/>
<circle cx="635.04" cy="212.7" r="5.6" fill="#ff0000" stroke="#fff" stroke-width="1.2"/>
<circle cx="647.82" cy="218.9" r="5.6" fill="#ff0000" stroke="#fff" stroke-width="1.2"/>
<circle cx="226.62" cy="386.1" r="5.5" fill="#ff0000" stroke="#000" stroke-width="2.2"/>
<circle cx="252.12" cy="385.6" r="5.6" fill="#ff0000" stroke="#fff" stroke-width="1.2"/>
<circle cx="418.46" cy="385.3" r="5.6" fill="#ff0000" stroke="#fff" stroke-width="1.2"/>
<circle cx="431.25" cy="387.8" r="5.6" fill="#ff0000" stroke="#fff" stroke-width="1.2"/>
<circle cx="609.46" cy="391.7" r="5.6" fill="#ff0000" stroke="#fff" stroke-width="1.2"/>
<circle cx="622.25" cy="390.9" r="5.6" fill="#ff0000" stroke="#fff" stroke-width="1.2"/>
<circle cx="635.04" cy="378.7" r="5.6" fill="#ff0000" stroke="#fff" stroke-width="1.2"/>
<circle cx="124.62" cy="610.3" r="5.6" fill="#ff0000" stroke="#fff" stroke-width="1.2"/>
<circle cx="213.88" cy="624.7" r="5.6" fill="#ff0000" stroke="#fff" stroke-width="1.2"/>
<circle cx="226.62" cy="607.1" r="5.6" fill="#ff0000" stroke="#fff" stroke-width="1.2"/>
<circle cx="239.38" cy="609.1" r="5.6" fill="#ff0000" stroke="#fff" stroke-width="1.2"/>
<circle cx="252.12" cy="633.1" r="5.5" fill="#ff0000" stroke="#000" stroke-width="2.2"/>
<circle cx="418.46" cy="627.4" r="5.6" fill="#ff0000" stroke="#fff" stroke-width="1.2"/>
<circle cx="431.25" cy="617.6" r="5.6" fill="#ff0000" stroke="#fff" stroke-width="1.2"/>
<circle cx="444.04" cy="633.2" r="5.6" fill="#ff0000" stroke="#fff" stroke-width="1.2"/>
<circle cx="456.82" cy="620.7" r="5.6" fill="#ff0000" stroke="#fff" stroke-width="1.2"/>
<circle cx="609.46" cy="614" r="5.6" fill="#ff0000" stroke="#fff" stroke-width="1.2"/>
<circle cx="622.25" cy="618.1" r="5.6" fill="#ff0000" stroke="#fff" stroke-width="1.2"/>
<circle cx="635.04" cy="637.4" r="5.6" fill="#ff0000" stroke="#fff" stroke-width="1.2"/>
<circle cx="647.82" cy="625.3" r="5.6" fill="#ff0000" stroke="#fff" stroke-width="1.2"/>
<circle cx="660.61" cy="614" r="5.6" fill="#ff0000" stroke="#fff" stroke-width="1.2"/>
<circle cx="86.38" cy="808.2" r="5.5" fill="#ff0000" stroke="#000" stroke-width="2.2"/>
<circle cx="99.12" cy="801.1" r="5.5" fill="#ff0000" stroke="#000" stroke-width="2.2"/>
<circle cx="239.38" cy="693.5" r="5.6" fill="#ff0000" stroke="#fff" stroke-width="1.2"/>
<circle cx="252.12" cy="686" r="5.5" fill="#ff0000" stroke="#000" stroke-width="2.2"/>
<circle cx="392.89" cy="720.4" r="5.6" fill="#ff0000" stroke="#fff" stroke-width="1.2"/>
<circle cx="405.68" cy="710.7" r="5.6" fill="#ff0000" stroke="#fff" stroke-width="1.2"/>
<circle cx="418.46" cy="701.6" r="5.6" fill="#ff0000" stroke="#fff" stroke-width="1.2"/>
<circle cx="431.25" cy="697" r="5.6" fill="#ff0000" stroke="#fff" stroke-width="1.2"/>
<circle cx="444.04" cy="689.4" r="5.6" fill="#ff0000" stroke="#fff" stroke-width="1.2"/>
<circle cx="456.82" cy="693.9" r="5.6" fill="#ff0000" stroke="#fff" stroke-width="1.2"/>
<circle cx="469.61" cy="707.8" r="5.6" fill="#ff0000" stroke="#fff" stroke-width="1.2"/>
<circle cx="596.68" cy="718.4" r="5.6" fill="#ff0000" stroke="#fff" stroke-width="1.2"/>
<circle cx="609.46" cy="708.7" r="5.6" fill="#ff0000" stroke="#fff" stroke-width="1.2"/>
<circle cx="622.25" cy="701.1" r="5.6" fill="#ff0000" stroke="#fff" stroke-width="1.2"/>
<circle cx="635.04" cy="693.9" r="5.6" fill="#ff0000" stroke="#fff" stroke-width="1.2"/>
<circle cx="647.82" cy="693.6" r="5.6" fill="#ff0000" stroke="#fff" stroke-width="1.2"/>
<circle cx="660.61" cy="696.6" r="5.6" fill="#ff0000" stroke="#fff" stroke-width="1.2"/>
<circle cx="188.38" cy="90.8" r="5.6" fill="#808080" stroke="#fff" stroke-width="1.2"/>
<circle cx="239.38" cy="85.8" r="5.6" fill="#808080" stroke="#fff" stroke-width="1.2"/>
<circle cx="328.96" cy="94.5" r="5.6" fill="#808080" stroke="#fff" stroke-width="1.2"/>
<circle cx="380.11" cy="88.3" r="5.6" fill="#808080" stroke="#fff" stroke-width="1.2"/>
<circle cx="583.89" cy="87.4" r="5.6" fill="#808080" stroke="#fff" stroke-width="1.2"/>
<circle cx="380.11" cy="231.4" r="5.6" fill="#808080" stroke="#fff" stroke-width="1.2"/>
<circle cx="86.38" cy="500.4" r="5.6" fill="#808080" stroke="#fff" stroke-width="1.2"/>
<circle cx="150.12" cy="515.1" r="5.6" fill="#808080" stroke="#fff" stroke-width="1.2"/>
<circle cx="341.75" cy="523.5" r="5.6" fill="#808080" stroke="#fff" stroke-width="1.2"/>
<circle cx="494.39" cy="525.5" r="5.6" fill="#808080" stroke="#fff" stroke-width="1.2"/>
<circle cx="558.32" cy="521.5" r="5.6" fill="#808080" stroke="#fff" stroke-width="1.2"/>
<circle cx="99.12" cy="173.8" r="5.6" fill="#0070c0" stroke="#fff" stroke-width="1.2"/>
<circle cx="188.38" cy="80.8" r="5.5" fill="#0070c0" stroke="#000" stroke-width="2.2"/>
<circle cx="213.88" cy="68" r="5.5" fill="#0070c0" stroke="#000" stroke-width="2.2"/>
<circle cx="226.62" cy="73.7" r="5.5" fill="#0070c0" stroke="#000" stroke-width="2.2"/>
<circle cx="252.12" cy="67.5" r="5.6" fill="#0070c0" stroke="#fff" stroke-width="1.2"/>
<circle cx="264.88" cy="78.3" r="5.6" fill="#0070c0" stroke="#fff" stroke-width="1.2"/>
<circle cx="405.68" cy="88.3" r="5.6" fill="#0070c0" stroke="#fff" stroke-width="1.2"/>
<circle cx="418.46" cy="46.2" r="5.6" fill="#0070c0" stroke="#fff" stroke-width="1.2"/>
<circle cx="431.25" cy="66.5" r="5.6" fill="#0070c0" stroke="#fff" stroke-width="1.2"/>
<circle cx="444.04" cy="56.8" r="5.6" fill="#0070c0" stroke="#fff" stroke-width="1.2"/>
<circle cx="456.82" cy="56.5" r="5.6" fill="#0070c0" stroke="#fff" stroke-width="1.2"/>
<circle cx="469.61" cy="95.3" r="5.6" fill="#0070c0" stroke="#fff" stroke-width="1.2"/>
<circle cx="494.39" cy="184.6" r="5.6" fill="#0070c0" stroke="#fff" stroke-width="1.2"/>
<circle cx="596.68" cy="81.8" r="5.6" fill="#0070c0" stroke="#fff" stroke-width="1.2"/>
<circle cx="609.46" cy="45.8" r="5.6" fill="#0070c0" stroke="#fff" stroke-width="1.2"/>
<circle cx="622.25" cy="51.7" r="5.6" fill="#0070c0" stroke="#fff" stroke-width="1.2"/>
<circle cx="635.04" cy="25.4" r="5.6" fill="#0070c0" stroke="#fff" stroke-width="1.2"/>
<circle cx="647.82" cy="40.8" r="5.6" fill="#0070c0" stroke="#fff" stroke-width="1.2"/>
<circle cx="660.61" cy="60.9" r="5.6" fill="#0070c0" stroke="#fff" stroke-width="1.2"/>
<circle cx="86.38" cy="311" r="5.6" fill="#0070c0" stroke="#fff" stroke-width="1.2"/>
<circle cx="99.12" cy="310.2" r="5.5" fill="#0070c0" stroke="#000" stroke-width="2.2"/>
<circle cx="111.88" cy="312" r="5.6" fill="#0070c0" stroke="#fff" stroke-width="1.2"/>
<circle cx="226.62" cy="181.7" r="5.5" fill="#0070c0" stroke="#000" stroke-width="2.2"/>
<circle cx="239.38" cy="208.2" r="5.6" fill="#0070c0" stroke="#fff" stroke-width="1.2"/>
<circle cx="252.12" cy="206.5" r="5.6" fill="#0070c0" stroke="#fff" stroke-width="1.2"/>
<circle cx="264.88" cy="195.1" r="5.5" fill="#0070c0" stroke="#000" stroke-width="2.2"/>
<circle cx="303.39" cy="314.3" r="5.6" fill="#0070c0" stroke="#fff" stroke-width="1.2"/>
<circle cx="418.46" cy="192.6" r="5.6" fill="#0070c0" stroke="#fff" stroke-width="1.2"/>
<circle cx="431.25" cy="183.8" r="5.6" fill="#0070c0" stroke="#fff" stroke-width="1.2"/>
<circle cx="444.04" cy="200.2" r="5.6" fill="#0070c0" stroke="#fff" stroke-width="1.2"/>
<circle cx="456.82" cy="195.2" r="5.6" fill="#0070c0" stroke="#fff" stroke-width="1.2"/>
<circle cx="469.61" cy="206.9" r="5.6" fill="#0070c0" stroke="#fff" stroke-width="1.2"/>
<circle cx="494.39" cy="316.4" r="5.6" fill="#0070c0" stroke="#fff" stroke-width="1.2"/>
<circle cx="507.18" cy="312" r="5.6" fill="#0070c0" stroke="#fff" stroke-width="1.2"/>
<circle cx="609.46" cy="218.9" r="5.6" fill="#0070c0" stroke="#fff" stroke-width="1.2"/>
<circle cx="622.25" cy="199.3" r="5.6" fill="#0070c0" stroke="#fff" stroke-width="1.2"/>
<circle cx="635.04" cy="188.1" r="5.6" fill="#0070c0" stroke="#fff" stroke-width="1.2"/>
<circle cx="647.82" cy="182.6" r="5.6" fill="#0070c0" stroke="#fff" stroke-width="1.2"/>
<circle cx="660.61" cy="193.5" r="5.6" fill="#0070c0" stroke="#fff" stroke-width="1.2"/>
<circle cx="86.38" cy="480.6" r="5.6" fill="#0070c0" stroke="#fff" stroke-width="1.2"/>
<circle cx="99.12" cy="484.7" r="5.6" fill="#0070c0" stroke="#fff" stroke-width="1.2"/>
<circle cx="213.88" cy="392.8" r="5.6" fill="#0070c0" stroke="#fff" stroke-width="1.2"/>
<circle cx="226.62" cy="334.2" r="5.5" fill="#0070c0" stroke="#000" stroke-width="2.2"/>
<circle cx="239.38" cy="361.8" r="5.6" fill="#0070c0" stroke="#fff" stroke-width="1.2"/>
<circle cx="252.12" cy="355.1" r="5.6" fill="#0070c0" stroke="#fff" stroke-width="1.2"/>
<circle cx="264.88" cy="346.4" r="5.5" fill="#0070c0" stroke="#000" stroke-width="2.2"/>
<circle cx="405.68" cy="393.7" r="5.6" fill="#0070c0" stroke="#fff" stroke-width="1.2"/>
<circle cx="418.46" cy="346.5" r="5.6" fill="#0070c0" stroke="#fff" stroke-width="1.2"/>
<circle cx="431.25" cy="331.4" r="5.6" fill="#0070c0" stroke="#fff" stroke-width="1.2"/>
<circle cx="444.04" cy="346.8" r="5.6" fill="#0070c0" stroke="#fff" stroke-width="1.2"/>
<circle cx="456.82" cy="337.6" r="5.6" fill="#0070c0" stroke="#fff" stroke-width="1.2"/>
<circle cx="469.61" cy="363.9" r="5.6" fill="#0070c0" stroke="#fff" stroke-width="1.2"/>
<circle cx="507.18" cy="485.7" r="5.6" fill="#0070c0" stroke="#fff" stroke-width="1.2"/>
<circle cx="609.46" cy="376.2" r="5.6" fill="#0070c0" stroke="#fff" stroke-width="1.2"/>
<circle cx="622.25" cy="350.2" r="5.6" fill="#0070c0" stroke="#fff" stroke-width="1.2"/>
<circle cx="635.04" cy="330.9" r="5.6" fill="#0070c0" stroke="#fff" stroke-width="1.2"/>
<circle cx="647.82" cy="322.1" r="5.6" fill="#0070c0" stroke="#fff" stroke-width="1.2"/>
<circle cx="660.61" cy="337.6" r="5.6" fill="#0070c0" stroke="#fff" stroke-width="1.2"/>
<circle cx="99.12" cy="528.2" r="5.5" fill="#0070c0" stroke="#000" stroke-width="2.2"/>
<circle cx="111.88" cy="528.2" r="5.5" fill="#0070c0" stroke="#000" stroke-width="2.2"/>
<circle cx="226.62" cy="614.7" r="5.6" fill="#0070c0" stroke="#fff" stroke-width="1.2"/>
<circle cx="239.38" cy="614.7" r="5.5" fill="#0070c0" stroke="#000" stroke-width="2.2"/>
<circle cx="264.88" cy="608" r="5.6" fill="#0070c0" stroke="#fff" stroke-width="1.2"/>
<circle cx="303.39" cy="521.5" r="5.6" fill="#0070c0" stroke="#fff" stroke-width="1.2"/>
<circle cx="418.46" cy="614.8" r="5.6" fill="#0070c0" stroke="#fff" stroke-width="1.2"/>
<circle cx="431.25" cy="625.3" r="5.6" fill="#0070c0" stroke="#fff" stroke-width="1.2"/>
<circle cx="444.04" cy="614" r="5.6" fill="#0070c0" stroke="#fff" stroke-width="1.2"/>
<circle cx="456.82" cy="608.9" r="5.6" fill="#0070c0" stroke="#fff" stroke-width="1.2"/>
<circle cx="494.39" cy="516.5" r="5.6" fill="#0070c0" stroke="#fff" stroke-width="1.2"/>
<circle cx="609.46" cy="608.9" r="5.6" fill="#0070c0" stroke="#fff" stroke-width="1.2"/>
<circle cx="622.25" cy="611.9" r="5.6" fill="#0070c0" stroke="#fff" stroke-width="1.2"/>
<circle cx="635.04" cy="621.5" r="5.6" fill="#0070c0" stroke="#fff" stroke-width="1.2"/>
<circle cx="647.82" cy="623.7" r="5.6" fill="#0070c0" stroke="#fff" stroke-width="1.2"/>
<circle cx="660.61" cy="607.6" r="5.6" fill="#0070c0" stroke="#fff" stroke-width="1.2"/>
<circle cx="188.38" cy="719.5" r="5.6" fill="#0070c0" stroke="#fff" stroke-width="1.2"/>
<circle cx="201.12" cy="712.8" r="5.6" fill="#0070c0" stroke="#fff" stroke-width="1.2"/>
<circle cx="213.88" cy="684.3" r="5.6" fill="#0070c0" stroke="#fff" stroke-width="1.2"/>
<circle cx="226.62" cy="671.5" r="5.6" fill="#0070c0" stroke="#fff" stroke-width="1.2"/>
<circle cx="239.38" cy="663.1" r="5.6" fill="#0070c0" stroke="#fff" stroke-width="1.2"/>
<circle cx="252.12" cy="662.1" r="5.5" fill="#0070c0" stroke="#000" stroke-width="2.2"/>
<circle cx="264.88" cy="658.9" r="5.6" fill="#0070c0" stroke="#fff" stroke-width="1.2"/>
<circle cx="277.62" cy="664.3" r="5.6" fill="#0070c0" stroke="#fff" stroke-width="1.2"/>
<circle cx="405.68" cy="698.3" r="5.6" fill="#0070c0" stroke="#fff" stroke-width="1.2"/>
<circle cx="418.46" cy="675.5" r="5.6" fill="#0070c0" stroke="#fff" stroke-width="1.2"/>
<circle cx="431.25" cy="666" r="5.6" fill="#0070c0" stroke="#fff" stroke-width="1.2"/>
<circle cx="444.04" cy="660.9" r="5.6" fill="#0070c0" stroke="#fff" stroke-width="1.2"/>
<circle cx="456.82" cy="659.3" r="5.6" fill="#0070c0" stroke="#fff" stroke-width="1.2"/>
<circle cx="469.61" cy="659.3" r="5.6" fill="#0070c0" stroke="#fff" stroke-width="1.2"/>
<circle cx="609.46" cy="693.9" r="5.6" fill="#0070c0" stroke="#fff" stroke-width="1.2"/>
<circle cx="622.25" cy="678.5" r="5.6" fill="#0070c0" stroke="#fff" stroke-width="1.2"/>
<circle cx="635.04" cy="666" r="5.6" fill="#0070c0" stroke="#fff" stroke-width="1.2"/>
<circle cx="647.82" cy="659.3" r="5.6" fill="#0070c0" stroke="#fff" stroke-width="1.2"/>
<circle cx="660.61" cy="656.2" r="5.6" fill="#0070c0" stroke="#fff" stroke-width="1.2"/>
<text x="83.1" y="37.4" font-size="17">Precipitation</text>
<text x="83.7" y="193.9" font-size="17">River Water Level</text>
<text x="83.5" y="337.9" font-size="17">River discharge</text>
<text x="82.6" y="509.6" font-size="17">Temperature</text>
<text x="82.5" y="665.9" font-size="17">scPDSI</text>
</svg>
</body></html>
